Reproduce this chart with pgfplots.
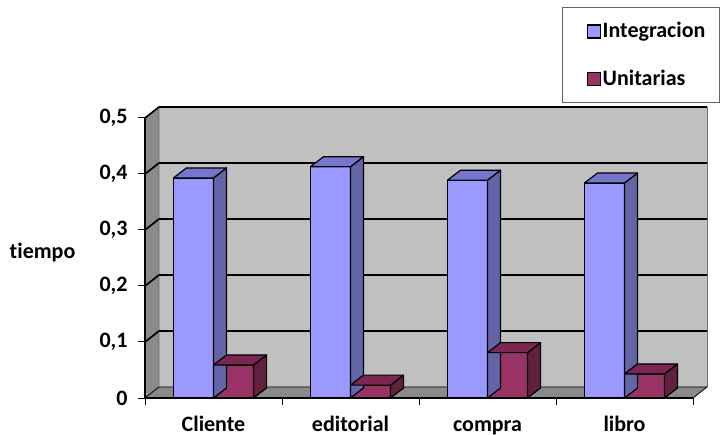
\documentclass[border=0pt]{standalone}
\usepackage{pgfplots}
\pgfplotsset{compat=1.18}
\usepackage{fontspec}
\setmainfont{Carlito}[Ligatures={NoCommon,NoContextual}]
\definecolor{cA}{HTML}{9999FF}
\definecolor{cAtop}{HTML}{7676CC}
\definecolor{cAside}{HTML}{6464A8}
\definecolor{cB}{HTML}{993366}
\definecolor{cBtop}{HTML}{7A2852}
\definecolor{cBside}{HTML}{62203F}
\definecolor{wall}{HTML}{C0C0C0}
\definecolor{wallside}{HTML}{8A8A8A}
\newcommand\lf{\fontsize{22bp}{26bp}\selectfont\bfseries}
\pgfdeclareplotmark{nothing}{}
\pgfplotsset{
  sqlegend/.style={legend image code/.code={\path (-12bp,0bp); \draw[##1, line width=1.2bp] (0bp,-7bp) rectangle (13bp,6bp);}},
  face3d/.style n args={4}{forget plot, only marks, mark=nothing, scatter,
    visualization depends on={rawy \as \ry},
    scatter/@pre marker code/.code={
      \pgfmathsetlengthmacro\hh{\ry*560bp}
      \filldraw[fill=#3, draw=black, line width=1.2bp, line join=round]
        (#2,0pt) -- ++(13bp,10bp) -- ++(0pt,-\hh) -- ++(-13bp,-10bp) -- cycle;
      \filldraw[fill=#4, draw=black, line width=1.2bp, line join=round]
        (#1,0pt) -- (#2,0pt) -- ++(13bp,10bp) -- ([xshift=13bp,yshift=10bp]#1,0pt) -- cycle;
    },
    scatter/@post marker code/.code={}},
}
\begin{document}
\begin{tikzpicture}
\begin{axis}[
  anchor=south west, at={(145bp,37bp)},
  x=137bp, y=560bp,
  xmin=-0.5, xmax=3.5, ymin=0, ymax=0.5,
  enlargelimits=false, clip=false, axis on top,
  axis x line*=bottom, axis y line*=left,
  axis line style={line width=1.2bp},
  tick align=outside, major tick length=7bp,
  tick style={black, line width=1bp},
  xtick={-0.5,0.5,1.5,2.5,3.5},
  xticklabels={Cliente,editorial,compra,libro},
  x tick label as interval,
  ytick={0,0.1,0.2,0.3,0.4,0.5},
  yticklabel style={/pgf/number format/.cd, fixed, precision=1, use comma, assume math mode=true, /tikz/.cd, xshift=-7bp},
  xticklabel style={yshift=-7bp, text height=15.5bp, text depth=4.5bp},
  tick label style={font=\lf},
  every axis y label/.style={at={(axis description cs:-0.187,0.518)}, anchor=center, font=\lf},
  ylabel={tiempo},
  legend style={at={(axis description cs:1.049,1.396)}, anchor=north east,
    draw=black!60, line width=0.8bp, font=\lf, row sep=27bp,
    inner xsep=12bp, inner ysep=13bp, cells={anchor=west}},
]
% walls
\fill[wall] ([shift={(14bp,11bp)}]axis cs:-0.5,0) rectangle ([shift={(14bp,11bp)}]axis cs:3.5,0.5);
\draw[black!55, line width=0.8bp] ([shift={(14bp,11bp)}]axis cs:3.5,0) -- ([shift={(14bp,11bp)}]axis cs:3.5,0.5);
\filldraw[fill=wallside, draw=black!55, line width=0.8bp] (axis cs:-0.5,0) -- ([shift={(14bp,11bp)}]axis cs:-0.5,0) -- ([shift={(14bp,11bp)}]axis cs:-0.5,0.5) -- (axis cs:-0.5,0.5) -- cycle;
\filldraw[fill=wallside, draw=black, line width=0.8bp] (axis cs:-0.5,0) -- (axis cs:3.5,0) -- ([shift={(14bp,11bp)}]axis cs:3.5,0) -- ([shift={(14bp,11bp)}]axis cs:-0.5,0) -- cycle;
\pgfplotsinvokeforeach{0.1,0.2,0.3,0.4,0.5}{
  \draw[black, line width=1.7bp] (axis cs:-0.5,#1) -- ([shift={(14bp,11bp)}]axis cs:-0.5,#1) -- ([shift={(14bp,11bp)}]axis cs:3.5,#1);
}
% Integracion
\addplot[ybar, bar width=40bp, bar shift=-20bp, fill=cA, draw=black, line width=1.2bp, sqlegend]
  coordinates {(0,0.393) (1,0.413) (2,0.389) (3,0.384)};
\addplot[face3d={-40bp}{0bp}{cAside}{cAtop}]
  coordinates {(0,0.393) (1,0.413) (2,0.389) (3,0.384)};
% Unitarias
\addplot[ybar, bar width=40bp, bar shift=20bp, fill=cB, draw=black, line width=1.2bp, sqlegend]
  coordinates {(0,0.059) (1,0.023) (2,0.081) (3,0.043)};
\addplot[face3d={0bp}{40bp}{cBside}{cBtop}]
  coordinates {(0,0.059) (1,0.023) (2,0.081) (3,0.043)};
\legend{Integracion,Unitarias}
\end{axis}
\pgfresetboundingbox
\useasboundingbox (0,0) rectangle (722bp,435bp);
\end{tikzpicture}
\end{document}
